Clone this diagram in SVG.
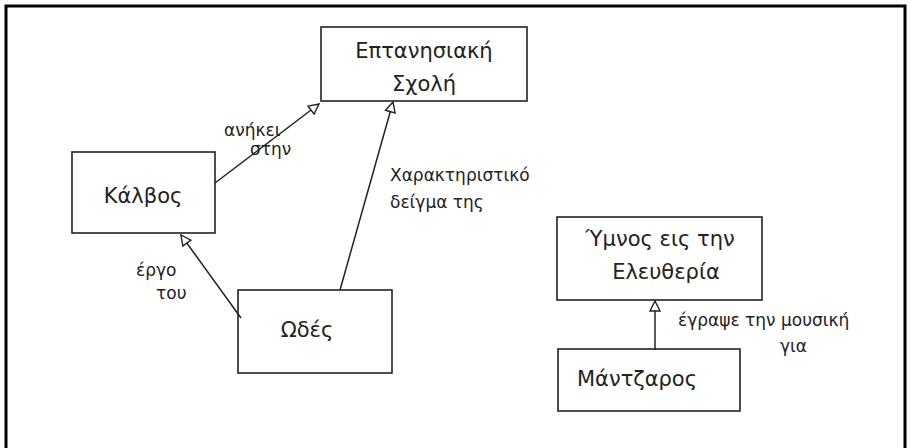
<svg xmlns="http://www.w3.org/2000/svg" width="911" height="448" viewBox="0 0 911 448">
<defs>
<style>
.box{fill:none;stroke:#222;stroke-width:1.6}
.edge{fill:none;stroke:#222;stroke-width:1.5}
.t{font-family:"DejaVu Sans","Liberation Sans",sans-serif;font-size:21px;fill:#222;text-anchor:middle}
.l{font-family:"DejaVu Sans","Liberation Sans",sans-serif;font-size:17px;fill:#222}
</style>
<marker id="tri" viewBox="0 0 12 12" refX="11" refY="6" markerWidth="12" markerHeight="12" markerUnits="userSpaceOnUse" orient="auto">
<path d="M1,1 L11,6 L1,11 Z" fill="#fff" stroke="#222" stroke-width="1.4"/>
</marker>
</defs>
<rect width="911" height="448" fill="#fff"/>
<path d="M6,450 L6,6 L905,6 L905,450" fill="none" stroke="#000" stroke-width="3"/>
<g id="connectors">
<line class="edge" x1="215" y1="183" x2="319" y2="104" marker-end="url(#tri)"/>
<text class="l" x="224" y="136">ανήκει</text>
<text class="l" x="250" y="155">στην</text>
<line class="edge" x1="340" y1="290" x2="393" y2="102" marker-end="url(#tri)"/>
<text class="l" x="390" y="181">Χαρακτηριστικό</text>
<text class="l" x="390" y="208">δείγμα της</text>
<line class="edge" x1="241" y1="318" x2="181" y2="235" marker-end="url(#tri)"/>
<text class="l" x="136" y="276">έργο</text>
<text class="l" x="156" y="299">του</text>
<line class="edge" x1="655" y1="350" x2="655" y2="301" marker-end="url(#tri)"/>
<text class="l" x="678" y="326">έγραψε την μουσική</text>
<text class="l" x="780" y="352">για</text>
</g>
<g id="n_eptanisiaki">
<rect class="box" x="321" y="27" width="206" height="74"/>
<text class="t" x="424" y="58">Επτανησιακή</text>
<text class="t" x="424" y="91">Σχολή</text>
</g>
<g id="n_kalvos">
<rect class="box" x="72" y="152" width="143" height="81"/>
<text class="t" x="143" y="203">Κάλβος</text>
</g>
<g id="n_odes">
<rect class="box" x="238" y="290" width="154" height="83"/>
<text class="t" x="307" y="337">Ωδές</text>
</g>
<g id="n_ymnos">
<rect class="box" x="557" y="217" width="205" height="83"/>
<text class="t" x="660" y="246">Ύμνος εις την</text>
<text class="t" x="666" y="279">Ελευθερία</text>
</g>
<g id="n_mantzaros">
<rect class="box" x="558" y="349" width="182" height="62"/>
<text class="t" x="637" y="386">Μάντζαρος</text>
</g>
</svg>
